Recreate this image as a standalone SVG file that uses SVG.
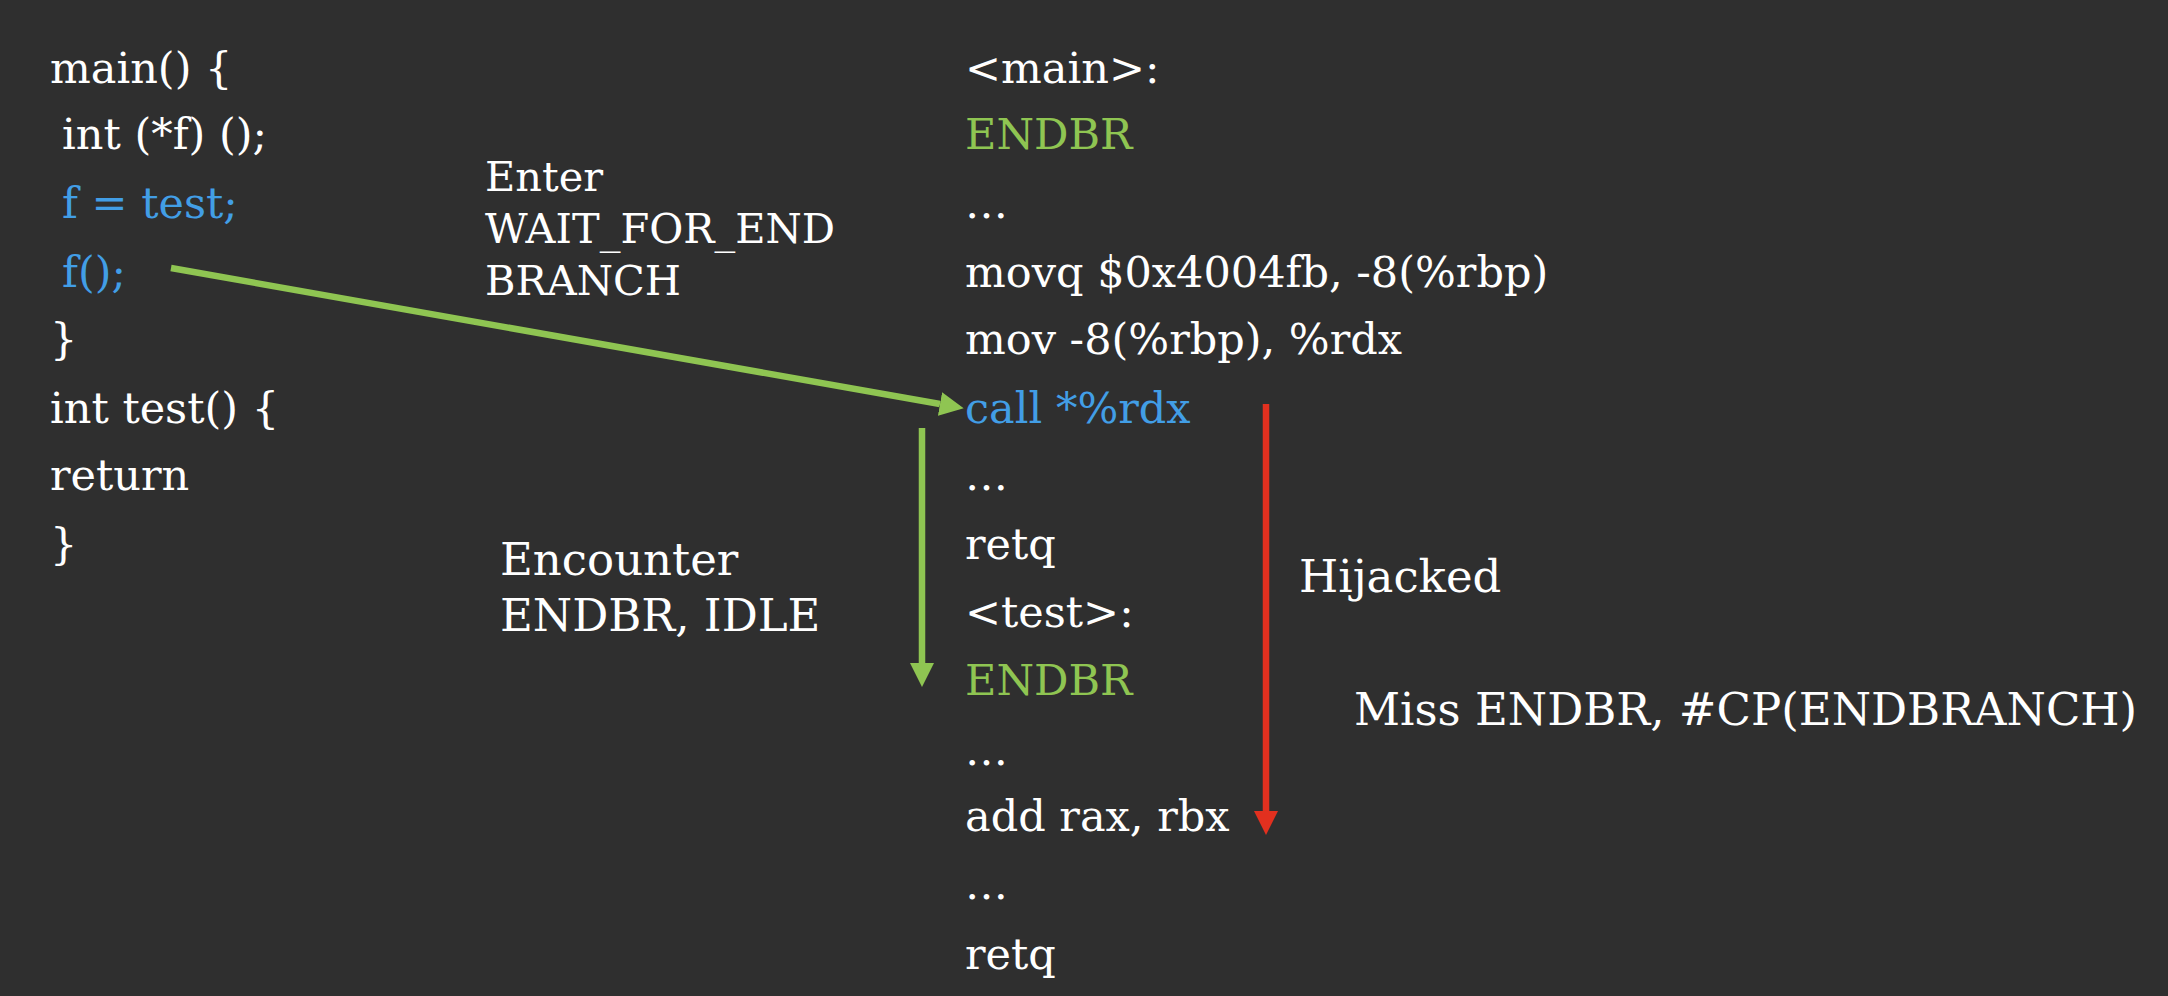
<svg xmlns="http://www.w3.org/2000/svg" width="2168" height="996" viewBox="0 0 2168 996">
  <style>
    text { font-family: "DejaVu Serif", "Liberation Serif", serif; font-size: 43px; fill: #ffffff; }
    .blue { fill: #429ee6; }
    .green { fill: #8fc552; }
    .lbl { font-size: 41.5px; }
    .lbl2 { font-size: 45px; }
    .gline { stroke: #8fc552; stroke-width: 6.5; fill: none; }
    .rline { stroke: #e2301f; stroke-width: 6.5; fill: none; }
  </style>
  <defs>
    <marker id="ag" viewBox="0 0 10 10" refX="0" refY="5" markerWidth="3.7" markerHeight="3.7" orient="auto" markerUnits="strokeWidth">
      <path d="M0,0 L10,5 L0,10 z" fill="#8fc552"/>
    </marker>
    <marker id="ar" viewBox="0 0 10 10" refX="0" refY="5" markerWidth="3.7" markerHeight="3.7" orient="auto" markerUnits="strokeWidth">
      <path d="M0,0 L10,5 L0,10 z" fill="#e2301f"/>
    </marker>
  </defs>
  <rect x="0" y="0" width="2168" height="996" fill="#2f2f2f"/>

  <g id="source-code">
    <text x="50" y="83">main() {</text>
    <text x="62" y="149">int (*f) ();</text>
    <text x="62" y="218" class="blue">f = test;</text>
    <text x="62" y="287" class="blue">f();</text>
    <text x="50" y="354">}</text>
    <text x="50" y="423">int test() {</text>
    <text x="50" y="490">return</text>
    <text x="50" y="559">}</text>
  </g>

  <g id="assembly">
    <text x="965" y="83">&lt;main&gt;:</text>
    <text x="965" y="149" class="green">ENDBR</text>
    <text x="965" y="218">…</text>
    <text x="965" y="287">movq $0x4004fb, -8(%rbp)</text>
    <text x="965" y="354">mov -8(%rbp), %rdx</text>
    <text x="965" y="423" class="blue">call *%rdx</text>
    <text x="965" y="490">…</text>
    <text x="965" y="559">retq</text>
    <text x="965" y="627">&lt;test&gt;:</text>
    <text x="965" y="695" class="green">ENDBR</text>
    <text x="965" y="765">…</text>
    <text x="965" y="831">add rax, rbx</text>
    <text x="965" y="899">…</text>
    <text x="965" y="969">retq</text>
  </g>

  <g id="label-enter">
    <text x="485" y="191" class="lbl">Enter</text>
    <text x="485" y="243" class="lbl">WAIT_FOR_END</text>
    <text x="485" y="295" class="lbl">BRANCH</text>
  </g>

  <g id="label-encounter">
    <text x="500" y="575" class="lbl2">Encounter</text>
    <text x="500" y="631" class="lbl2">ENDBR, IDLE</text>
  </g>

  <g id="label-hijacked">
    <text x="1299" y="592" class="lbl2">Hijacked</text>
  </g>

  <g id="label-miss">
    <text x="1354" y="725" class="lbl2">Miss ENDBR, #CP(ENDBRANCH)</text>
  </g>

  <g id="connectors">
    <line class="gline" x1="171" y1="268" x2="940" y2="404" marker-end="url(#ag)"/>
    <line class="gline" x1="922" y1="428" x2="922" y2="663" marker-end="url(#ag)"/>
    <line class="rline" x1="1266" y1="404" x2="1266" y2="811" marker-end="url(#ar)"/>
  </g>
</svg>
